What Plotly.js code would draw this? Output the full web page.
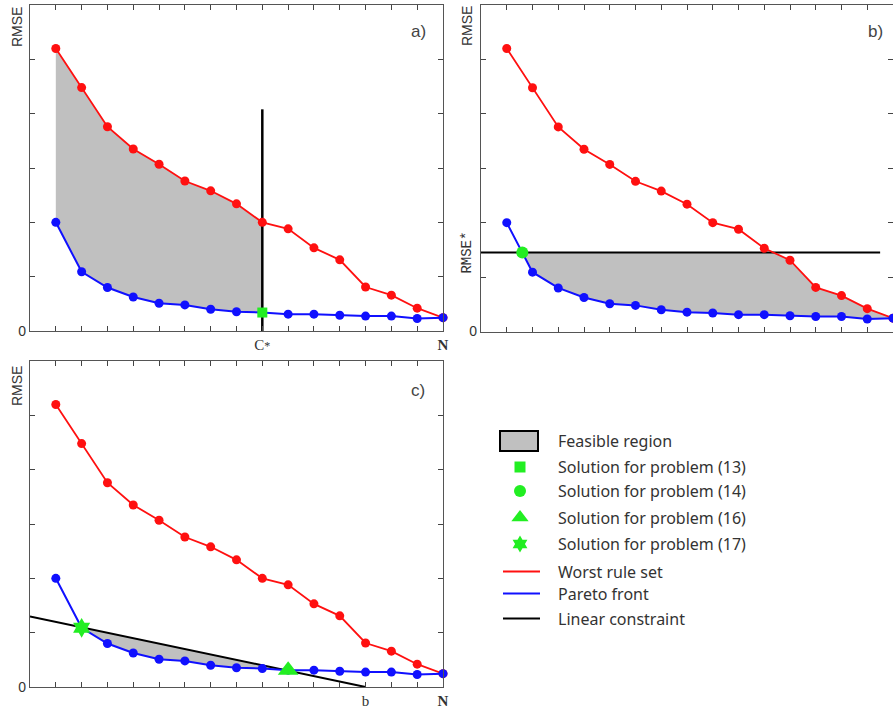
<!DOCTYPE html>
<html>
<head>
<meta charset="utf-8">
<script src="https://cdn.plot.ly/plotly-3.0.1.min.js"></script>
<style>html,body{margin:0;padding:0;background:#fff}#chart{width:893px;height:709px}</style>
</head>
<body>
<div id="chart"></div>
<script>
// ---- data ----
const nRules = [1,2,3,4,5,6,7,8,9,10,11,12,13,14,15,16];
const worstRMSE = [5.20,4.48,3.76,3.35,3.07,2.76,2.58,2.34,2.00,1.88,1.53,1.31,0.81,0.66,0.42,0.245];
const paretoRMSE = [2.00,1.09,0.80,0.625,0.51,0.48,0.40,0.355,0.34,0.31,0.31,0.29,0.275,0.275,0.23,0.245];
const cStar = 9;            // complexity bound (panel a)
const cLineTop = 4.08;      // top of the C* line
const rmseStar = 1.45;      // accuracy bound (panel b)
const rmseLineEnd = 15.5;   // right end of the RMSE* line
const constraintIntercept = 1.30; // linear constraint at x=0 (panel c)
const bVal = 13;            // linear constraint hits zero at b
const sol16X = 10, sol17X = 2;
const xTickVals = [1,2,3,4,5,6,7,8,9,10,11,12,13,14,15,16];
const yTickVals = [0,1,2,3,4,5];
const legendLabels = ["Feasible region","Solution for problem (13)","Solution for problem (14)",
  "Solution for problem (16)","Solution for problem (17)","Worst rule set","Pareto front","Linear constraint"];

// ---- helpers ----
const RED='#ff1010', BLUE='#1010ff', GREEN='#22ee22', GRAY='#c0c0c0';
function interpX(ys, level){ // first crossing of a descending series with level
  for(let i=0;i<ys.length-1;i++){
    if(ys[i]>=level && ys[i+1]<=level){
      const t=(ys[i]-level)/(ys[i]-ys[i+1]);
      return nRules[i]+t*(nRules[i+1]-nRules[i]);
    }
  }
  return null;
}
const idx = x => nRules.indexOf(x);

const traces = [];
// Panel a feasible region
{
  const k = idx(cStar);
  const xs = nRules.slice(0,k+1).concat(nRules.slice(0,k+1).reverse());
  const ys = worstRMSE.slice(0,k+1).concat(paretoRMSE.slice(0,k+1).reverse());
  traces.push({x:xs,y:ys,xaxis:'x',yaxis:'y',mode:'lines',fill:'toself',fillcolor:GRAY,line:{width:0},hoverinfo:'skip'});
}
// Panel b feasible region
const solBx = interpX(paretoRMSE, rmseStar);
const redBx = interpX(worstRMSE, rmseStar);
{
  const xs=[solBx, redBx], ys=[rmseStar, rmseStar];
  nRules.forEach((x,i)=>{ if(x>redBx){xs.push(x);ys.push(worstRMSE[i]);} });
  for(let i=nRules.length-1;i>=0;i--){ if(nRules[i]>solBx){xs.push(nRules[i]);ys.push(paretoRMSE[i]);} }
  xs.push(solBx); ys.push(rmseStar);
  traces.push({x:xs,y:ys,xaxis:'x2',yaxis:'y2',mode:'lines',fill:'toself',fillcolor:GRAY,line:{width:0},hoverinfo:'skip'});
}
// Panel c feasible region (between linear constraint and Pareto front)
const constraint = x => constraintIntercept*(1 - x/bVal);
{
  let xEnd = null;
  for(let i=idx(sol17X);i<nRules.length-1;i++){
    const d0 = constraint(nRules[i])-paretoRMSE[i], d1 = constraint(nRules[i+1])-paretoRMSE[i+1];
    if(d0>=0 && d1<0){ xEnd = nRules[i] + d0/(d0-d1); break; }
  }
  const xs=[], ys=[];
  nRules.forEach((x,i)=>{ if(x>=sol17X && x<=xEnd){xs.push(x);ys.push(paretoRMSE[i]);} });
  xs.push(xEnd); ys.push(constraint(xEnd));
  xs.push(sol17X); ys.push(constraint(sol17X));
  traces.push({x:xs,y:ys,xaxis:'x3',yaxis:'y3',mode:'lines',fill:'toself',fillcolor:GRAY,line:{width:0},hoverinfo:'skip'});
}
// constraint lines
traces.push({x:[cStar,cStar],y:[0,cLineTop],xaxis:'x',yaxis:'y',mode:'lines',line:{color:'#000',width:2.5}});
traces.push({x:[0,rmseLineEnd],y:[rmseStar,rmseStar],xaxis:'x2',yaxis:'y2',mode:'lines',line:{color:'#000',width:2}});
traces.push({x:[0,bVal],y:[constraint(0),constraint(bVal)],xaxis:'x3',yaxis:'y3',mode:'lines',line:{color:'#000',width:2}});

// series for each panel
[['x','y'],['x2','y2'],['x3','y3']].forEach(([xa,ya])=>{
  traces.push({x:nRules,y:worstRMSE,xaxis:xa,yaxis:ya,mode:'lines+markers',cliponaxis:false,
    line:{color:RED,width:1.8},marker:{color:RED,size:9}});
  traces.push({x:nRules,y:paretoRMSE,xaxis:xa,yaxis:ya,mode:'lines+markers',cliponaxis:false,
    line:{color:BLUE,width:2},marker:{color:BLUE,size:9}});
});
// solutions
traces.push({x:[cStar],y:[paretoRMSE[idx(cStar)]],xaxis:'x',yaxis:'y',mode:'markers',cliponaxis:false,marker:{symbol:'square',color:GREEN,size:10}});
traces.push({x:[solBx],y:[rmseStar],xaxis:'x2',yaxis:'y2',mode:'markers',cliponaxis:false,marker:{symbol:'circle',color:GREEN,size:12}});
traces.push({x:[sol16X],y:[paretoRMSE[idx(sol16X)]],xaxis:'x3',yaxis:'y3',mode:'markers',cliponaxis:false,marker:{symbol:'triangle-up',color:GREEN,size:18}});
traces.push({x:[sol17X],y:[paretoRMSE[idx(sol17X)]],xaxis:'x3',yaxis:'y3',mode:'markers',cliponaxis:false,marker:{symbol:'hexagram',color:GREEN,size:15}});

// legend drawn on hidden helper axis (pixel-like units)
const legRows = [441,467,491,517.5,544,571.5,593.5,618.5];
const legMarkers = [null,'square','circle','triangle-up','hexagram'];
const legMarkerSize = [0,11,12,15,13];
for(let i=1;i<=4;i++){
  traces.push({x:[520],y:[legRows[i]],xaxis:'x4',yaxis:'y4',mode:'markers',cliponaxis:false,
    marker:{symbol:legMarkers[i],color:GREEN,size:legMarkerSize[i]}});
}
const legLineColors = [RED,BLUE,'#000'];
for(let i=0;i<3;i++){
  traces.push({x:[503,540],y:[legRows[5+i],legRows[5+i]],xaxis:'x4',yaxis:'y4',mode:'lines',cliponaxis:false,
    line:{color:legLineColors[i],width:2}});
}

// ---- layout ----
const W=893,H=709;
const px = v=>v/W, py = v=>(H-v)/H;
const axFont = {family:'Liberation Sans, Arial',size:14,color:'#333'};
function xax(d, ticktext, anchor){
  return {domain:d,anchor:anchor,range:[0,16],tickvals:xTickVals,ticktext:ticktext,ticks:'inside',ticklen:5,tickcolor:'#444',
    showline:true,linecolor:'#555',linewidth:1.2,mirror:'ticks',showgrid:false,zeroline:false,
    tickfont:{family:'Liberation Serif',size:15,color:'#333'},fixedrange:true};
}
function yax(d, anchor){
  return {domain:d,anchor:anchor,range:[0,6],tickvals:yTickVals,ticktext:['0','','','','',''],ticks:'inside',ticklen:5,tickcolor:'#444',
    showline:true,linecolor:'#555',linewidth:1.2,mirror:'ticks',showgrid:false,zeroline:false,
    tickfont:axFont,fixedrange:true};
}
const blank = xTickVals.map(()=> '');
const ttA = blank.slice(); ttA[idx(cStar)] = 'C<span style="font-size:12px">*</span>'; ttA[15]='<b>N</b>';
const ttB = blank.slice(); ttB[15]='<b>N</b>';
const ttC = blank.slice(); ttC[idx(bVal)] = 'b'; ttC[15]='<b>N</b>';

const annFont = {family:'Liberation Sans, Arial',size:14,color:'#333'};
const lblFont = {family:'Liberation Sans, Arial',size:17,color:'#444'};
const ann = (o)=>Object.assign({showarrow:false,xanchor:'center',yanchor:'middle',xref:'paper',yref:'paper'},o);
const annotations = [
  ann({text:'a)',x:px(418),y:py(31),font:lblFont}),
  ann({text:'b)',x:px(875),y:py(31),font:lblFont}),
  ann({text:'c)',x:px(418),y:py(390),font:lblFont}),
  ann({text:'RMSE',x:px(17),y:py(27),textangle:-90,font:annFont}),
  ann({text:'RMSE',x:px(467),y:py(26),textangle:-90,font:annFont}),
  ann({text:'RMSE',x:px(17),y:py(386),textangle:-90,font:annFont}),
  ann({text:'RMSE*',yref:'y2',x:px(467),y:rmseStar,textangle:-90,
    font:{family:'Liberation Mono',size:14,color:'#333'}})
];
legendLabels.forEach((t,i)=>{
  annotations.push({text:t,xref:'x4',yref:'y4',x:556,y:legRows[i],xanchor:'left',yanchor:'middle',showarrow:false,
    font:{family:'Noto Sans',size:16,color:'#333'}});
});

const layout = {
  width:W,height:H,margin:{l:0,r:0,t:0,b:0},showlegend:false,
  paper_bgcolor:'#fff',plot_bgcolor:'rgba(0,0,0,0)',
  xaxis:xax([px(30),px(443)],ttA,'y'), yaxis:yax([py(331),py(5)],'x'),
  xaxis2:xax([px(481),1],ttB,'y2'), yaxis2:yax([py(331.5),py(5)],'x2'),
  xaxis3:xax([px(30),px(443)],ttC,'y3'), yaxis3:yax([py(687),py(361)],'x3'),
  xaxis4:{domain:[px(490),px(560)],anchor:'y4',range:[490,560],visible:false,fixedrange:true},
  yaxis4:{domain:[py(630),py(420)],anchor:'x4',range:[630,420],visible:false,fixedrange:true},
  shapes:[{type:'rect',xref:'x4',yref:'y4',x0:500,x1:538,y0:431,y1:451,fillcolor:GRAY,line:{color:'#000',width:2}}],
  annotations:annotations
};
Plotly.newPlot('chart',traces,layout,{staticPlot:true});
</script>
</body>
</html>
